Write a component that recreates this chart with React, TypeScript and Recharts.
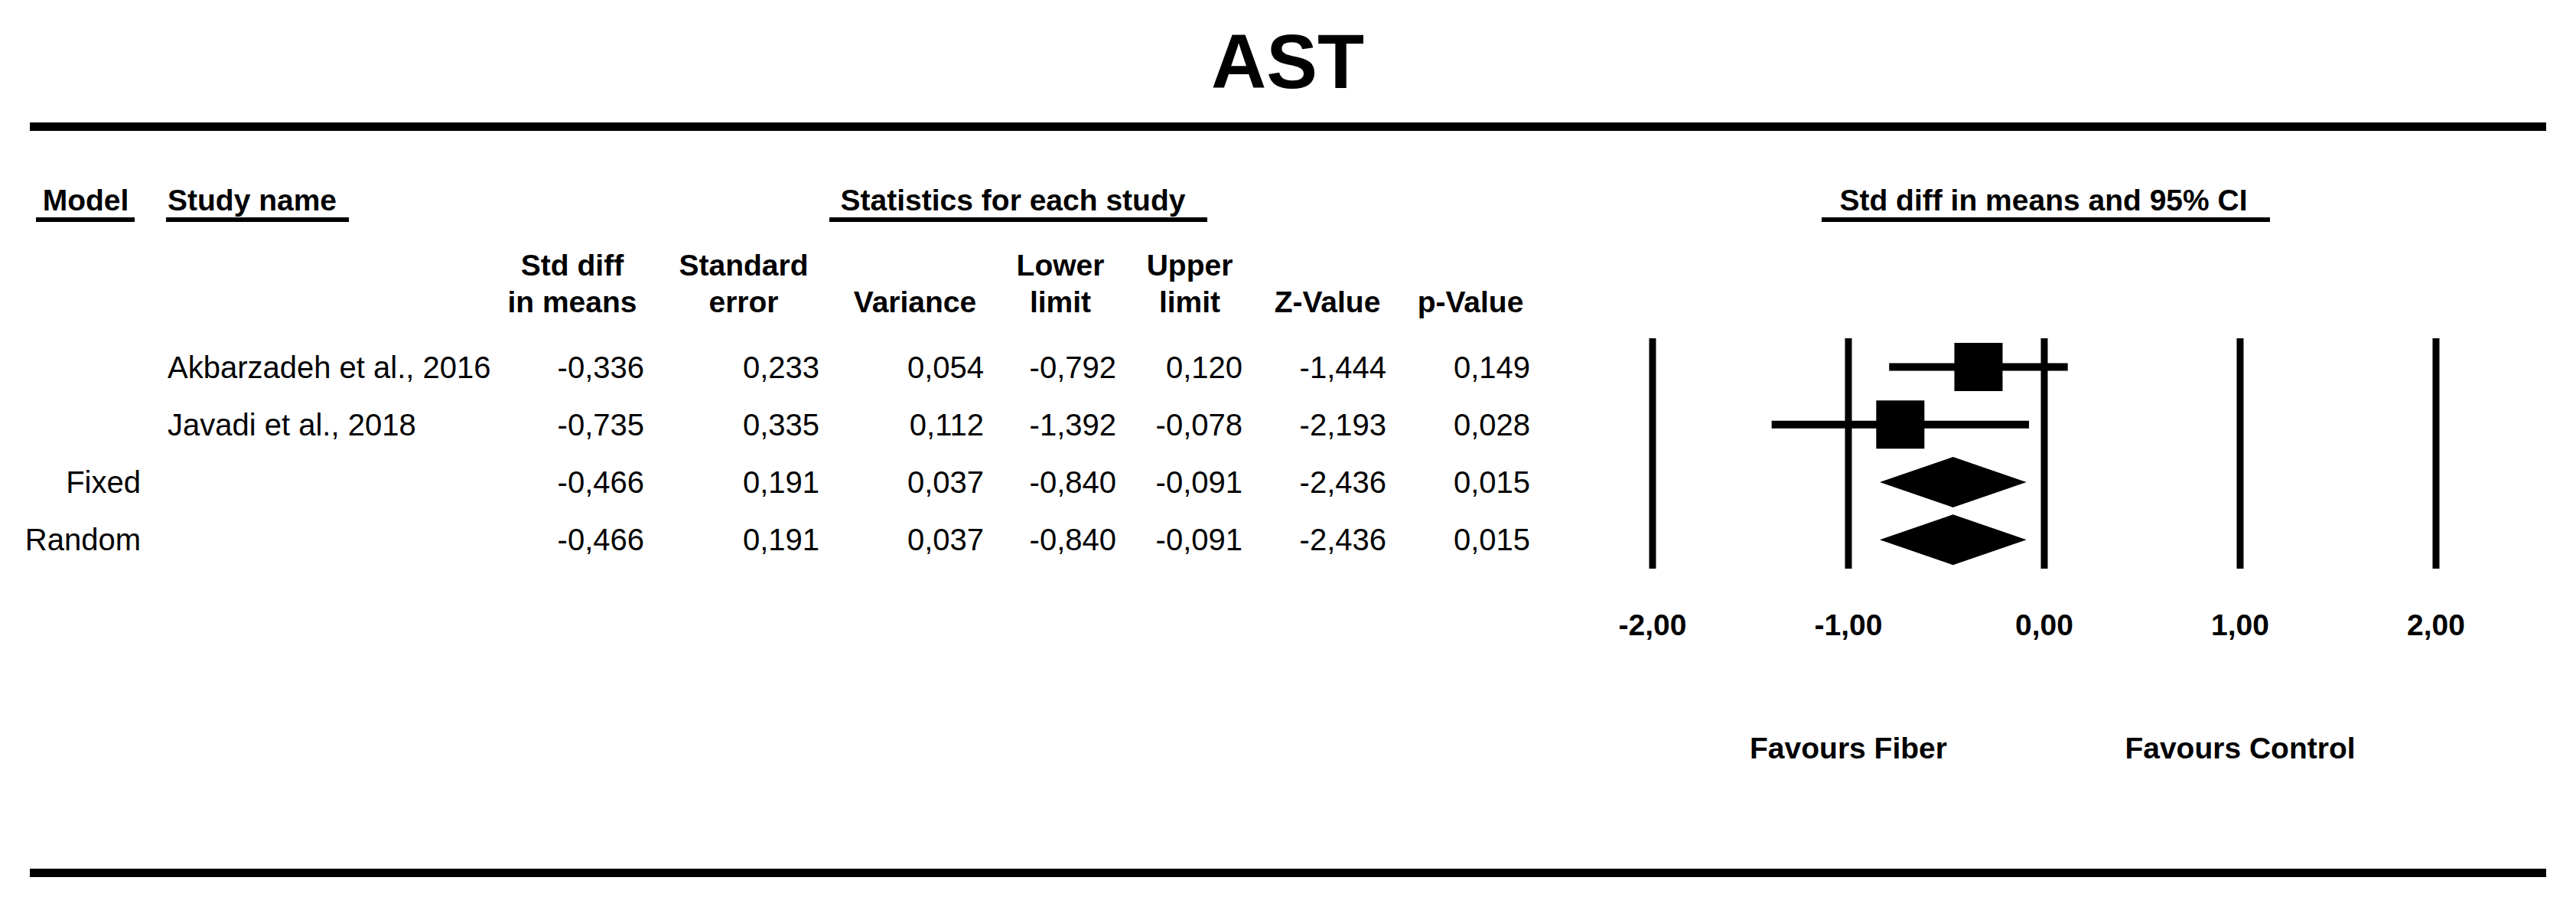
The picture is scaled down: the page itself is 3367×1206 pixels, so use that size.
import { ComposedChart, Bar, XAxis, YAxis, ReferenceLine, Label } from "recharts";

const FONT = "'Liberation Sans', Arial, Helvetica, sans-serif";

// rows of the forest plot
const rowLabels = ["Akbarzadeh et al., 2016", "Javadi et al., 2018", "Fixed", "Random"];
const modelNames = ["", "", "Fixed", "Random"];
const studyNames = ["Akbarzadeh et al., 2016", "Javadi et al., 2018", "", ""];
const rowKinds = ["study", "study", "summary", "summary"];

// statistics for each study
const stdDiffs = [-0.336, -0.735, -0.466, -0.466];
const stdErrors = [0.233, 0.335, 0.191, 0.191];
const variances = [0.054, 0.112, 0.037, 0.037];
const lowerLimits = [-0.792, -1.392, -0.84, -0.84];
const upperLimits = [0.12, -0.078, -0.091, -0.091];
const zValues = [-1.444, -2.193, -2.436, -2.436];
const pValues = [0.149, 0.028, 0.015, 0.015];

const xTicks = [-2, -1, 0, 1, 2];

const data = rowLabels.map((row, i) => ({
  row,
  kind: rowKinds[i],
  est: stdDiffs[i],
  ci: [lowerLimits[i], upperLimits[i]],
}));

const fmt = (v: number, d: number) => v.toFixed(d).replace(".", ",");

// columns: [values, right edge x]
const statCols: [number[], number][] = [
  [stdDiffs, 842],
  [stdErrors, 1071],
  [variances, 1286],
  [lowerLimits, 1459],
  [upperLimits, 1624],
  [zValues, 1812],
  [pValues, 2000],
];

const colHeaders: [string, string, number][] = [
  ["Std diff", "in means", 748],
  ["Standard", "error", 972],
  ["", "Variance", 1196],
  ["Lower", "limit", 1386],
  ["Upper", "limit", 1555],
  ["", "Z-Value", 1735],
  ["", "p-Value", 1922],
];

const TableRow = (props: any) => {
  const { y, payload } = props;
  const i = props.index ?? payload.index;
  const base = y + 14;
  return (
    <g fontFamily={FONT} fontSize={40} fill="#000">
      <text x={184} y={base} textAnchor="end">{modelNames[i]}</text>
      <text x={219} y={base} textAnchor="start">{studyNames[i]}</text>
      {statCols.map(([vals, right], c) => (
        <text key={c} x={right} y={base} textAnchor="end">{fmt(vals[i], 3)}</text>
      ))}
    </g>
  );
};

const XTick = (props: any) => {
  const { x, y, payload } = props;
  return (
    <text x={x} y={y + 87} textAnchor="middle" fontFamily={FONT} fontSize={39} fontWeight="bold" fill="#000">
      {fmt(payload.value, 2)}
    </text>
  );
};

const ForestMark = (props: any) => {
  const { x, y, width, height, payload } = props;
  const left = Math.min(x, x + width);
  const right = Math.max(x, x + width);
  const [lo, hi] = payload.ci;
  const ex = left + ((right - left) * (payload.est - lo)) / (hi - lo);
  const cy = y + height / 2;
  if (payload.kind === "summary") {
    return <polygon points={`${left},${cy} ${ex},${cy - 33} ${right},${cy} ${ex},${cy + 33}`} fill="#000" />;
  }
  return (
    <g fill="#000">
      <rect x={left} y={cy - 5} width={right - left} height={10} />
      <rect x={ex - 31.5} y={cy - 31.5} width={63} height={63} />
    </g>
  );
};

const Header = () => (
  <svg width={3367} height={1206} style={{ position: "absolute", left: 0, top: 0, pointerEvents: "none" }}>
    <text x={1683} y={115} textAnchor="middle" fontFamily={FONT} fontSize={100} fontWeight="bold" fill="#000">AST</text>
    <rect x={39} y={160} width={3289} height={11} fill="#000" />
    <rect x={39} y={1135} width={3289} height={11} fill="#000" />
    <g fontFamily={FONT} fontSize={39} fontWeight="bold" fill="#000">
      <text x={112} y={275} textAnchor="middle">Model</text>
      <rect x={47} y={284} width={129} height={6} />
      <text x={219} y={275}>Study name</text>
      <rect x={217} y={284} width={239} height={6} />
      <text x={1324} y={275} textAnchor="middle">Statistics for each study</text>
      <rect x={1084} y={284} width={494} height={6} />
      <text x={2671} y={275} textAnchor="middle">Std diff in means and 95% CI</text>
      <rect x={2381} y={284} width={586} height={6} />
      {colHeaders.map(([a, b, cx], k) => (
        <g key={k}>
          <text x={cx} y={360} textAnchor="middle">{a}</text>
          <text x={cx} y={408} textAnchor="middle">{b}</text>
        </g>
      ))}
    </g>
  </svg>
);

export default function App() {
  return (
    <div style={{ position: "absolute", left: 0, top: 0, width: 3367, height: 1206, background: "#fff" }}>
      <ComposedChart
        width={3367}
        height={1206}
        data={data}
        layout="vertical"
        margin={{ top: 442, right: 183, bottom: 383, left: 0 }}
        barCategoryGap={0}
      >
        <XAxis
          type="number"
          domain={[-2, 2]}
          ticks={xTicks}
          axisLine={false}
          tickLine={false}
          tickSize={0}
          tickMargin={0}
          height={80}
          tick={<XTick />}
        />
        <YAxis
          type="category"
          dataKey="row"
          width={2160}
          axisLine={false}
          tickLine={false}
          interval={0}
          tick={<TableRow />}
        />
        {xTicks.map((v) => (
          <ReferenceLine key={v} x={v} stroke="#000" strokeWidth={9}>
            {v === -1 && (
              <Label value="Favours Fiber" position="bottom" offset={220} fontFamily={FONT} fontSize={39} fontWeight="bold" fill="#000" />
            )}
            {v === 1 && (
              <Label value="Favours Control" position="bottom" offset={220} fontFamily={FONT} fontSize={39} fontWeight="bold" fill="#000" />
            )}
          </ReferenceLine>
        ))}
        <Bar dataKey="ci" shape={<ForestMark />} isAnimationActive={false} />
      </ComposedChart>
      <Header />
    </div>
  );
}
